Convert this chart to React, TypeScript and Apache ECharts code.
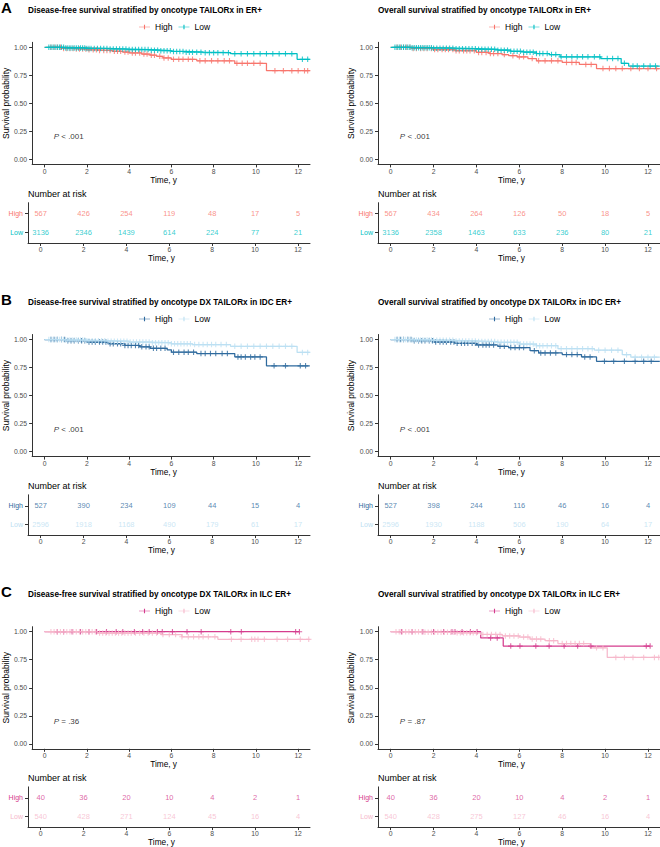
import React, { useEffect, useRef } from "react";
import * as echarts from "echarts";

const FONT = "'Liberation Sans', Arial, Helvetica, sans-serif";

const timeTicks = [0, 2, 4, 6, 8, 10, 12];
const survTicks = [0, 0.25, 0.5, 0.75, 1];

// ---------- Panel A: ER+ ----------
const aDfsHighTimes = [0, 0.8, 1.5, 2.0, 2.6, 3.2, 3.7, 4.0, 4.6, 5.0, 5.3, 5.6, 6.0, 7.2, 9.0, 10.5, 12.55];
const aDfsHighSurv = [1, 0.99, 0.985, 0.978, 0.972, 0.965, 0.958, 0.95, 0.94, 0.93, 0.92, 0.905, 0.893, 0.88, 0.857, 0.792, 0.792];
const aDfsHighCensor = [0.3, 0.45, 0.6, 0.75, 0.9, 1.05, 1.2, 1.35, 1.5, 1.65, 1.8, 1.95, 2.1, 2.3, 2.45, 2.6, 2.8, 2.95, 3.1, 3.3, 3.45, 3.6, 3.8, 3.95, 4.15, 4.3, 4.5, 4.7, 4.85, 5.05, 5.2, 5.45, 5.65, 5.85, 6.1, 6.35, 6.55, 6.8, 7.0, 7.35, 7.6, 7.9, 8.2, 8.5, 8.75, 9.1, 9.35, 9.6, 9.9, 10.2, 10.9, 11.3, 11.7, 12.0, 12.3, 12.45];
const aDfsHighRisk = [567, 426, 254, 119, 48, 17, 5];
const aDfsLowTimes = [0, 1.0, 2.0, 3.0, 4.0, 5.0, 5.5, 6.0, 6.6, 7.5, 8.8, 11.95, 12.55];
const aDfsLowSurv = [1, 0.995, 0.99, 0.985, 0.98, 0.975, 0.97, 0.963, 0.957, 0.952, 0.943, 0.893, 0.893];
const aDfsLowCensor = [0.2, 0.3, 0.4, 0.5, 0.6, 0.7, 0.8, 0.9, 1.0, 1.1, 1.2, 1.3, 1.4, 1.5, 1.6, 1.7, 1.8, 1.9, 2.0, 2.1, 2.2, 2.35, 2.5, 2.65, 2.8, 2.95, 3.1, 3.25, 3.4, 3.55, 3.7, 3.85, 4.0, 4.15, 4.3, 4.45, 4.6, 4.75, 4.9, 5.05, 5.2, 5.35, 5.5, 5.65, 5.8, 5.95, 6.1, 6.25, 6.4, 6.55, 6.7, 6.85, 7.0, 7.2, 7.4, 7.6, 7.8, 8.0, 8.2, 8.45, 8.7, 9.0, 9.3, 9.6, 9.9, 10.2, 10.5, 10.8, 11.1, 11.4, 11.7, 12.2, 12.45];
const aDfsLowRisk = [3136, 2346, 1439, 614, 224, 77, 21];

const aOsHighTimes = [0, 1.0, 2.0, 3.0, 4.0, 4.6, 5.2, 5.5, 5.9, 6.4, 6.8, 8.0, 8.8, 9.6, 12.55];
const aOsHighSurv = [1, 0.99, 0.98, 0.97, 0.955, 0.945, 0.935, 0.925, 0.915, 0.9, 0.88, 0.865, 0.847, 0.81, 0.81];
const aOsHighCensor = [0.3, 0.45, 0.6, 0.75, 0.9, 1.05, 1.2, 1.4, 1.55, 1.7, 1.9, 2.05, 2.2, 2.4, 2.55, 2.7, 2.9, 3.05, 3.2, 3.4, 3.55, 3.7, 3.9, 4.1, 4.25, 4.45, 4.65, 4.8, 5.0, 5.3, 5.7, 6.0, 6.2, 6.6, 6.9, 7.2, 7.5, 7.8, 8.2, 8.45, 8.65, 9.1, 9.35, 9.9, 10.2, 10.5, 10.8, 11.2, 11.6, 12.0, 12.4];
const aOsHighRisk = [567, 434, 264, 126, 50, 18, 5];
const aOsLowTimes = [0, 1.0, 2.0, 3.0, 4.0, 5.0, 5.6, 6.2, 6.8, 7.4, 7.9, 9.8, 10.75, 11.1, 12.55];
const aOsLowSurv = [1, 0.997, 0.993, 0.988, 0.982, 0.975, 0.965, 0.957, 0.945, 0.935, 0.915, 0.9, 0.857, 0.833, 0.833];
const aOsLowCensor = [0.2, 0.3, 0.4, 0.5, 0.6, 0.7, 0.8, 0.9, 1.0, 1.1, 1.2, 1.3, 1.4, 1.5, 1.6, 1.7, 1.8, 1.9, 2.0, 2.15, 2.3, 2.45, 2.6, 2.75, 2.9, 3.05, 3.2, 3.35, 3.5, 3.65, 3.8, 3.95, 4.1, 4.25, 4.4, 4.55, 4.7, 4.85, 5.0, 5.15, 5.3, 5.45, 5.6, 5.75, 5.9, 6.05, 6.2, 6.35, 6.5, 6.65, 6.8, 6.95, 7.1, 7.3, 7.5, 7.7, 7.95, 8.2, 8.45, 8.7, 8.95, 9.2, 9.5, 9.75, 10.1, 10.35, 10.6, 10.9, 11.3, 11.5, 11.8, 12.1, 12.35];
const aOsLowRisk = [3136, 2358, 1463, 633, 236, 80, 21];

// ---------- Panel B: IDC ER+ ----------
const bDfsHighTimes = [0, 1.0, 2.0, 3.0, 3.8, 4.5, 5.0, 5.8, 6.0, 7.2, 9.0, 10.5, 12.55];
const bDfsHighSurv = [1, 0.99, 0.977, 0.963, 0.947, 0.935, 0.922, 0.908, 0.887, 0.875, 0.845, 0.765, 0.765];
const bDfsHighCensor = [0.3, 0.45, 0.6, 0.8, 0.95, 1.1, 1.25, 1.4, 1.6, 1.75, 1.9, 2.1, 2.25, 2.4, 2.6, 2.75, 2.9, 3.1, 3.25, 3.45, 3.6, 3.8, 3.95, 4.1, 4.3, 4.45, 4.6, 4.8, 4.95, 5.15, 5.3, 5.5, 5.7, 6.1, 6.35, 6.6, 6.8, 7.05, 7.4, 7.6, 7.85, 8.1, 8.4, 8.65, 9.15, 9.3, 9.5, 9.75, 9.95, 10.2, 10.86, 11.4, 12.1, 12.35];
const bDfsHighRisk = [527, 390, 234, 109, 44, 15, 4];
const bDfsLowTimes = [0, 1.0, 2.0, 3.0, 4.0, 5.0, 6.0, 7.0, 8.8, 11.95, 12.55];
const bDfsLowSurv = [1, 0.995, 0.99, 0.985, 0.978, 0.972, 0.962, 0.955, 0.94, 0.885, 0.885];
const bDfsLowCensor = [0.2, 0.3, 0.4, 0.5, 0.6, 0.7, 0.8, 0.9, 1.0, 1.1, 1.2, 1.3, 1.4, 1.5, 1.6, 1.7, 1.8, 1.9, 2.0, 2.1, 2.25, 2.4, 2.55, 2.7, 2.85, 3.0, 3.15, 3.3, 3.45, 3.6, 3.75, 3.9, 4.05, 4.2, 4.35, 4.5, 4.65, 4.8, 4.95, 5.1, 5.25, 5.4, 5.55, 5.7, 5.85, 6.0, 6.15, 6.3, 6.45, 6.6, 6.75, 6.9, 7.1, 7.3, 7.5, 7.7, 7.9, 8.1, 8.35, 8.6, 9.0, 9.3, 9.6, 9.9, 10.2, 10.5, 10.8, 11.1, 11.4, 11.7, 12.2, 12.45];
const bDfsLowRisk = [2596, 1918, 1168, 490, 179, 61, 17];

const bOsHighTimes = [0, 1.0, 2.0, 3.0, 4.0, 5.0, 5.5, 6.5, 6.9, 8.0, 8.9, 9.6, 12.55];
const bOsHighSurv = [1, 0.99, 0.978, 0.966, 0.952, 0.94, 0.928, 0.9, 0.88, 0.866, 0.845, 0.806, 0.806];
const bOsHighCensor = [0.3, 0.45, 0.6, 0.8, 0.95, 1.1, 1.3, 1.45, 1.6, 1.8, 1.95, 2.1, 2.3, 2.45, 2.6, 2.8, 2.95, 3.1, 3.3, 3.45, 3.6, 3.8, 3.95, 4.1, 4.3, 4.45, 4.6, 4.8, 5.1, 5.3, 5.6, 5.8, 6.0, 6.2, 6.7, 7.0, 7.2, 7.45, 7.7, 8.2, 8.45, 8.7, 9.05, 9.3, 9.97, 10.4, 10.9, 11.4, 11.8, 12.15];
const bOsHighRisk = [527, 398, 244, 116, 46, 16, 4];
const bOsLowTimes = [0, 1.0, 2.0, 3.0, 4.0, 5.0, 6.0, 6.8, 7.8, 9.5, 10.8, 11.2, 12.55];
const bOsLowSurv = [1, 0.997, 0.993, 0.988, 0.982, 0.975, 0.96, 0.945, 0.918, 0.905, 0.865, 0.843, 0.843];
const bOsLowCensor = [0.2, 0.3, 0.4, 0.5, 0.6, 0.7, 0.8, 0.9, 1.0, 1.1, 1.2, 1.3, 1.4, 1.5, 1.6, 1.7, 1.8, 1.9, 2.0, 2.15, 2.3, 2.45, 2.6, 2.75, 2.9, 3.05, 3.2, 3.35, 3.5, 3.65, 3.8, 3.95, 4.1, 4.25, 4.4, 4.55, 4.7, 4.85, 5.0, 5.15, 5.3, 5.45, 5.6, 5.75, 5.9, 6.05, 6.2, 6.35, 6.5, 6.65, 6.8, 6.95, 7.1, 7.3, 7.5, 7.7, 7.95, 8.2, 8.45, 8.7, 8.95, 9.2, 9.4, 9.7, 10.0, 10.3, 10.6, 11.0, 11.4, 11.7, 12.0, 12.3];
const bOsLowRisk = [2596, 1930, 1188, 506, 190, 64, 17];

// ---------- Panel C: ILC ER+ ----------
const cDfsHighTimes = [0, 12.06];
const cDfsHighSurv = [1, 1];
const cDfsHighCensor = [0.6, 0.9, 1.3, 1.7, 2.1, 2.46, 2.93, 3.39, 3.7, 4.25, 4.64, 4.95, 5.34, 5.57, 6.05, 6.74, 7.41, 8.81, 9.31, 11.88, 12.06];
const cDfsHighRisk = [40, 36, 20, 10, 4, 2, 1];
const cDfsLowTimes = [0, 2.5, 5.5, 6.5, 8.2, 12.55];
const cDfsLowSurv = [1, 0.988, 0.975, 0.955, 0.932, 0.932];
const cDfsLowCensor = [0.3, 0.45, 0.6, 0.75, 0.9, 1.05, 1.2, 1.35, 1.5, 1.65, 1.8, 1.95, 2.1, 2.25, 2.4, 2.6, 2.75, 2.9, 3.05, 3.2, 3.35, 3.5, 3.65, 3.8, 3.95, 4.1, 4.3, 4.5, 4.7, 4.9, 5.1, 5.3, 5.6, 5.9, 6.2, 6.5, 6.8, 7.05, 7.3, 7.5, 7.75, 8.06, 8.84, 9.3, 9.8, 9.95, 10.1, 10.4, 11.0, 11.5, 12.1, 12.5];
const cDfsLowRisk = [540, 428, 271, 124, 45, 16, 4];

const cOsHighTimes = [0, 4.2, 5.25, 12.1];
const cOsHighSurv = [1, 0.945, 0.872, 0.872];
const cOsHighCensor = [0.5, 1.0, 1.5, 2.0, 2.47, 2.86, 3.0, 3.33, 3.72, 4.03, 4.66, 4.97, 5.6, 6.03, 6.77, 7.39, 8.09, 8.72, 9.34, 11.92, 12.1];
const cOsHighRisk = [40, 36, 20, 10, 4, 2, 1];
const cOsLowTimes = [0, 1.5, 3.0, 4.2, 5.2, 6.0, 6.5, 7.2, 7.8, 9.3, 10.1, 12.55];
const cOsLowSurv = [1, 0.995, 0.99, 0.976, 0.963, 0.953, 0.935, 0.92, 0.895, 0.857, 0.771, 0.771];
const cOsLowCensor = [0.25, 0.4, 0.55, 0.7, 0.85, 1.0, 1.15, 1.3, 1.45, 1.6, 1.75, 1.9, 2.05, 2.2, 2.35, 2.5, 2.65, 2.8, 2.95, 3.1, 3.25, 3.4, 3.55, 3.7, 3.85, 4.0, 4.3, 4.5, 4.7, 4.9, 5.1, 5.35, 5.55, 5.75, 5.95, 6.2, 6.4, 6.6, 6.8, 7.0, 7.4, 7.6, 8.0, 8.2, 8.4, 8.6, 8.8, 9.0, 9.6, 9.9, 10.5, 10.9, 11.3, 11.8, 12.3, 12.5];
const cOsLowRisk = [540, 428, 275, 127, 46, 16, 4];

// ---------- colours ----------
const A_HIGH = "#F8766D";
const A_LOW = "#00BFC4";
const B_HIGH = "#2E6A9E";
const B_LOW = "#BCE0F2";
const C_HIGH = "#D53D8E";
const C_LOW = "#F6B8CB";

type Group = { times: number[]; surv: number[]; censor: number[]; risk: number[]; color: string };
type Panel = { letter: string; title: string; pLabel: string; high: Group; low: Group };

const panels: Panel[] = [
  {
    letter: "A",
    title: "Disease-free survival stratified by oncotype TAILORx in ER+",
    pLabel: "< .001",
    high: { times: aDfsHighTimes, surv: aDfsHighSurv, censor: aDfsHighCensor, risk: aDfsHighRisk, color: A_HIGH },
    low: { times: aDfsLowTimes, surv: aDfsLowSurv, censor: aDfsLowCensor, risk: aDfsLowRisk, color: A_LOW },
  },
  {
    letter: "",
    title: "Overall survival stratified by oncotype TAILORx in ER+",
    pLabel: "< .001",
    high: { times: aOsHighTimes, surv: aOsHighSurv, censor: aOsHighCensor, risk: aOsHighRisk, color: A_HIGH },
    low: { times: aOsLowTimes, surv: aOsLowSurv, censor: aOsLowCensor, risk: aOsLowRisk, color: A_LOW },
  },
  {
    letter: "B",
    title: "Disease-free survival stratified by oncotype DX TAILORx in IDC ER+",
    pLabel: "< .001",
    high: { times: bDfsHighTimes, surv: bDfsHighSurv, censor: bDfsHighCensor, risk: bDfsHighRisk, color: B_HIGH },
    low: { times: bDfsLowTimes, surv: bDfsLowSurv, censor: bDfsLowCensor, risk: bDfsLowRisk, color: B_LOW },
  },
  {
    letter: "",
    title: "Overall survival stratified by oncotype DX TAILORx in IDC ER+",
    pLabel: "< .001",
    high: { times: bOsHighTimes, surv: bOsHighSurv, censor: bOsHighCensor, risk: bOsHighRisk, color: B_HIGH },
    low: { times: bOsLowTimes, surv: bOsLowSurv, censor: bOsLowCensor, risk: bOsLowRisk, color: B_LOW },
  },
  {
    letter: "C",
    title: "Disease-free survival stratified by oncotype DX TAILORx in ILC ER+",
    pLabel: "= .36",
    high: { times: cDfsHighTimes, surv: cDfsHighSurv, censor: cDfsHighCensor, risk: cDfsHighRisk, color: C_HIGH },
    low: { times: cDfsLowTimes, surv: cDfsLowSurv, censor: cDfsLowCensor, risk: cDfsLowRisk, color: C_LOW },
  },
  {
    letter: "",
    title: "Overall survival stratified by oncotype DX TAILORx in ILC ER+",
    pLabel: "= .87",
    high: { times: cOsHighTimes, surv: cOsHighSurv, censor: cOsHighCensor, risk: cOsHighRisk, color: C_HIGH },
    low: { times: cOsLowTimes, surv: cOsLowSurv, censor: cOsLowCensor, risk: cOsLowRisk, color: C_LOW },
  },
];

// ---------- layout ----------
const COL_LEFT = [28, 378];
const GRID_W = 282;
const KM_TOP = [42.3, 334.5, 626.7];
const KM_H = 122.1;
const RISK_TOP = [202.7, 494.8, 786.9];
const RISK_H = 40.3;
const TITLE_Y = [10.7, 302.3, 594.3];
const LETTER_Y = [7, 299, 591];
const LEGEND_Y = [27, 319, 611];
const LEGEND_LEFT = [139, 489];
const NAR_Y = [194, 486, 778];
const X_MIN = -0.59;
const X_MAX = 12.56;
const AX = "#333333";
const TICK_TXT = "#4D4D4D";

const plusPath = "path://M4,0h2v10h-2z M0,4h10v2h-10z";
const legendIcon = "path://M0,4.4h20v1.2h-20z M9,1h2v8h-2z";

function stepAt(times: number[], surv: number[], t: number) {
  let s = surv[0];
  for (let i = 0; i < times.length; i++) if (times[i] <= t) s = surv[i];
  return s;
}

function buildOption() {
  const grid: any[] = [];
  const xAxis: any[] = [];
  const yAxis: any[] = [];
  const series: any[] = [];
  const title: any[] = [];
  const legend: any[] = [];

  const xAxisBase = (gi: number, nameGap: number, margin: number) => ({
    gridIndex: gi,
    type: "value",
    min: X_MIN,
    max: X_MAX,
    axisLine: { show: true, onZero: false, lineStyle: { color: AX, width: 1 } },
    axisTick: { show: true, customValues: timeTicks, length: 3, lineStyle: { color: AX, width: 1 } },
    axisLabel: { customValues: timeTicks, fontSize: 6.8, color: TICK_TXT, margin, fontFamily: FONT },
    splitLine: { show: false },
    name: "Time, y",
    nameLocation: "middle",
    nameGap,
    nameTextStyle: {
      fontSize: 8.3,
      fontWeight: "normal",
      color: "#000",
      fontFamily: FONT,
      padding: [0, 15, 0, 0],
    },
  });

  panels.forEach((p, k) => {
    const col = k % 2;
    const row = Math.floor(k / 2);
    const left = COL_LEFT[col];
    const kmIdx = 2 * k;
    const rkIdx = 2 * k + 1;

    grid.push({ left, top: KM_TOP[row], width: GRID_W, height: KM_H });
    grid.push({ left, top: RISK_TOP[row], width: GRID_W, height: RISK_H });

    xAxis.push(xAxisBase(kmIdx, 9.5, 3.5));
    xAxis.push(xAxisBase(rkIdx, 10, 3));

    yAxis.push({
      gridIndex: kmIdx,
      type: "value",
      min: -0.045,
      max: 1.045,
      axisLine: { show: true, onZero: false, lineStyle: { color: AX, width: 1 } },
      axisTick: { show: true, customValues: survTicks, length: 3, lineStyle: { color: AX, width: 1 } },
      axisLabel: {
        customValues: survTicks,
        formatter: (v: number) => v.toFixed(2),
        fontSize: 6.8,
        color: TICK_TXT,
        margin: 5,
        fontFamily: FONT,
      },
      splitLine: { show: false },
      name: "Survival probability",
      nameLocation: "middle",
      nameRotate: 90,
      nameGap: 19,
      nameTextStyle: { fontSize: 8.5, fontWeight: "normal", color: "#000", fontFamily: FONT },
    });
    yAxis.push({
      gridIndex: rkIdx,
      type: "value",
      min: 0.4,
      max: 2.6,
      axisLine: { show: true, onZero: false, lineStyle: { color: AX, width: 1 } },
      axisTick: { show: true, customValues: [1, 2], length: 3, lineStyle: { color: AX, width: 1 } },
      axisLabel: {
        customValues: [1, 2],
        formatter: (v: number) => (v === 2 ? "{h|High}" : "{l|Low}"),
        margin: 5,
        rich: {
          h: { color: p.high.color, fontSize: 7, fontFamily: FONT },
          l: { color: p.low.color, fontSize: 7, fontFamily: FONT },
        },
      },
      splitLine: { show: false },
    });

    const groups: [string, Group][] = [
      ["High", p.high],
      ["Low", p.low],
    ];
    // step lines
    groups.forEach(([nm, g]) => {
      series.push({
        type: "line",
        name: `${nm} ${k}`,
        xAxisIndex: kmIdx,
        yAxisIndex: kmIdx,
        step: "end",
        symbol: "none",
        showSymbol: false,
        silent: true,
        data: g.times.map((t, i) => [t, g.surv[i]]),
        lineStyle: { color: g.color, width: 1.25 },
        itemStyle: { color: g.color },
        z: 2,
      });
    });
    // censor marks
    groups.forEach(([nm, g]) => {
      series.push({
        type: "scatter",
        name: `censor ${nm} ${k}`,
        xAxisIndex: kmIdx,
        yAxisIndex: kmIdx,
        symbol: plusPath,
        symbolSize: 5.5,
        silent: true,
        itemStyle: { color: g.color },
        data: g.censor.map((t) => [t, stepAt(g.times, g.surv, t)]),
        z: 3,
      });
    });
    // p value
    series.push({
      type: "scatter",
      name: `p ${k}`,
      xAxisIndex: kmIdx,
      yAxisIndex: kmIdx,
      symbolSize: 0,
      silent: true,
      data: [[0.43, 0.2]],
      label: {
        show: true,
        position: "right",
        distance: 0,
        formatter: `{i|P} ${p.pLabel}`,
        fontSize: 8,
        color: "#000",
        fontFamily: FONT,
        rich: { i: { fontStyle: "italic", fontSize: 8, color: "#000", fontFamily: FONT } },
      },
    });
    // risk table
    groups.forEach(([nm, g]) => {
      const yv = nm === "High" ? 2 : 1;
      series.push({
        type: "scatter",
        name: `risk ${nm} ${k}`,
        xAxisIndex: rkIdx,
        yAxisIndex: rkIdx,
        symbolSize: 0,
        silent: true,
        data: timeTicks.map((t, i) => [t, yv, g.risk[i]]),
        label: {
          show: true,
          position: "inside",
          formatter: (pp: any) => String(pp.value[2]),
          fontSize: 7.5,
          color: g.color,
          fontFamily: FONT,
        },
      });
    });

    // titles
    if (p.letter) {
      title.push({
        text: p.letter,
        left: 1,
        top: LETTER_Y[row] - 9,
        padding: 0,
        textStyle: { fontSize: 15, fontWeight: "bold", color: "#000", fontFamily: FONT, lineHeight: 18 },
      });
    }
    title.push({
      text: p.title,
      left,
      top: TITLE_Y[row] - 5.5,
      padding: 0,
      textStyle: { fontSize: 8.2, fontWeight: "bold", color: "#000", fontFamily: FONT, lineHeight: 11 },
    });
    title.push({
      text: "Number at risk",
      left,
      top: NAR_Y[row] - 5.5,
      padding: 0,
      textStyle: { fontSize: 9, fontWeight: "normal", color: "#000", fontFamily: FONT, lineHeight: 11 },
    });

    legend.push({
      data: [`High ${k}`, `Low ${k}`],
      left: LEGEND_LEFT[col],
      top: LEGEND_Y[row] - 5,
      padding: 0,
      itemWidth: 11,
      itemHeight: 7,
      itemGap: 6,
      icon: legendIcon,
      selectedMode: false,
      formatter: (n: string) => n.split(" ")[0],
      textStyle: { fontSize: 8.5, color: "#000", fontFamily: FONT, lineHeight: 10 },
    });
  });

  return {
    animation: false,
    backgroundColor: "#ffffff",
    textStyle: { fontFamily: FONT },
    title,
    legend,
    grid,
    xAxis,
    yAxis,
    series,
  };
}

export default function App() {
  const ref = useRef<HTMLDivElement>(null);
  useEffect(() => {
    if (!ref.current) return;
    const chart = echarts.init(ref.current, undefined, { renderer: "svg" });
    chart.setOption(buildOption() as any);
    return () => chart.dispose();
  }, []);
  return (
    <div
      ref={ref}
      style={{ position: "absolute", left: 0, top: 0, width: 660, height: 847, background: "#fff" }}
    />
  );
}
